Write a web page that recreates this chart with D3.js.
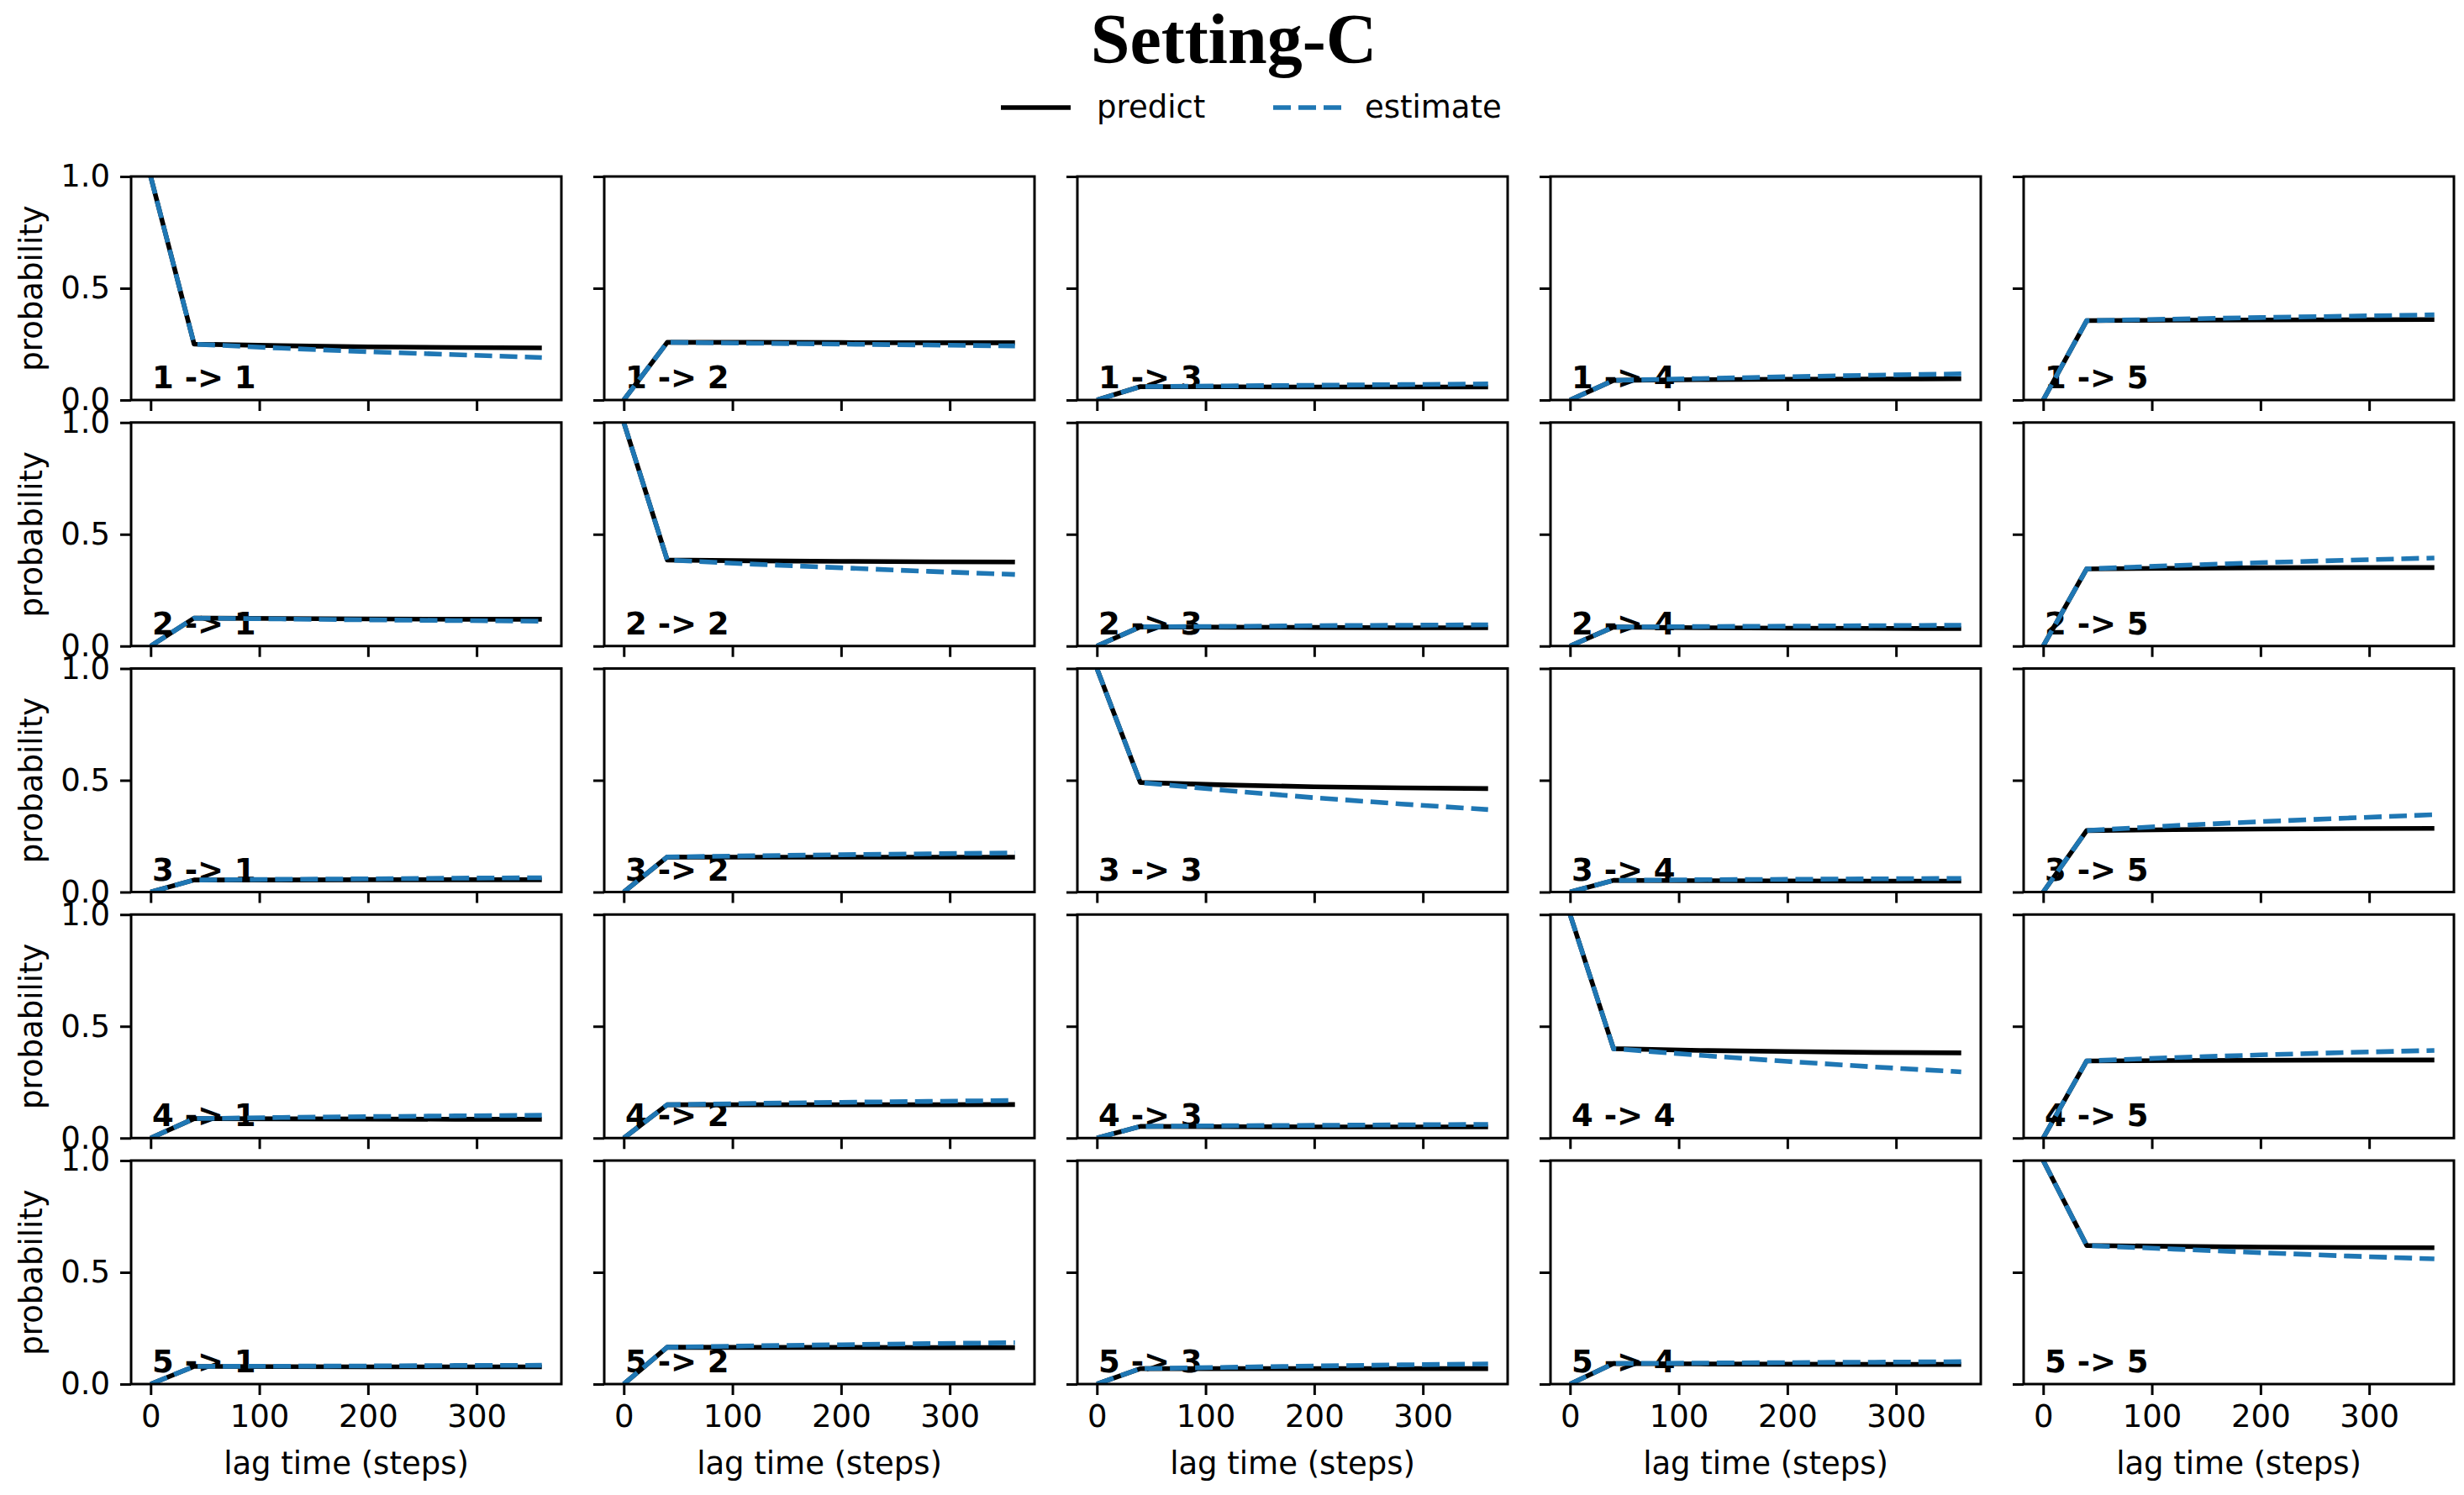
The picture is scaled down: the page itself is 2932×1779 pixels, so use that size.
<!DOCTYPE html>
<html>
<head>
<meta charset="utf-8">
<script src="https://cdn.jsdelivr.net/npm/d3@7"></script>
<style>
  body { margin: 0; background: #fff; }
  text { font-family: "DejaVu Sans", sans-serif; }
</style>
</head>
<body>
<svg id="chart" width="2932" height="1779"></svg>
<script>
// DATA ------------------------------------------------------------------------
const states = [1, 2, 3, 4, 5];
const lagTimes = [0, 40, 120, 200, 280, 360];
const xTicks = [0, 100, 200, 300];
const yTicks = [0, 0.5, 1];

// one array per (from -> to) panel, rows = "from" state
const predictRow1 = [
  [1, 0.25, 0.243, 0.238, 0.235, 0.233],
  [0, 0.258, 0.258, 0.257, 0.256, 0.256],
  [0, 0.06, 0.059, 0.058, 0.058, 0.058],
  [0, 0.088, 0.091, 0.093, 0.094, 0.095],
  [0, 0.355, 0.357, 0.358, 0.359, 0.36]
];
const estimateRow1 = [
  [1, 0.25, 0.232, 0.216, 0.203, 0.19],
  [0, 0.258, 0.254, 0.25, 0.246, 0.242],
  [0, 0.06, 0.063, 0.066, 0.069, 0.072],
  [0, 0.088, 0.096, 0.104, 0.111, 0.117],
  [0, 0.355, 0.362, 0.369, 0.375, 0.381]
];
const predictRow2 = [
  [0, 0.125, 0.123, 0.121, 0.12, 0.12],
  [1, 0.385, 0.381, 0.379, 0.377, 0.376],
  [0, 0.086, 0.084, 0.083, 0.082, 0.082],
  [0, 0.085, 0.082, 0.08, 0.079, 0.078],
  [0, 0.345, 0.348, 0.35, 0.351, 0.351]
];
const estimateRow2 = [
  [0, 0.125, 0.121, 0.117, 0.114, 0.111],
  [1, 0.385, 0.366, 0.35, 0.334, 0.32],
  [0, 0.086, 0.088, 0.091, 0.093, 0.095],
  [0, 0.085, 0.087, 0.089, 0.091, 0.093],
  [0, 0.345, 0.36, 0.373, 0.384, 0.394]
];
const predictRow3 = [
  [0, 0.054, 0.054, 0.055, 0.055, 0.055],
  [0, 0.157, 0.156, 0.156, 0.156, 0.156],
  [1, 0.49, 0.479, 0.471, 0.466, 0.463],
  [0, 0.052, 0.051, 0.05, 0.049, 0.049],
  [0, 0.275, 0.279, 0.282, 0.284, 0.285]
];
const estimateRow3 = [
  [0, 0.054, 0.057, 0.059, 0.062, 0.064],
  [0, 0.157, 0.162, 0.167, 0.171, 0.175],
  [1, 0.49, 0.454, 0.422, 0.394, 0.369],
  [0, 0.052, 0.055, 0.057, 0.059, 0.061],
  [0, 0.275, 0.297, 0.315, 0.331, 0.346]
];
const predictRow4 = [
  [0, 0.087, 0.086, 0.085, 0.084, 0.084],
  [0, 0.149, 0.149, 0.149, 0.149, 0.15],
  [0, 0.052, 0.051, 0.05, 0.05, 0.05],
  [1, 0.4, 0.392, 0.387, 0.383, 0.381],
  [0, 0.345, 0.347, 0.348, 0.349, 0.349]
];
const estimateRow4 = [
  [0, 0.087, 0.092, 0.096, 0.099, 0.102],
  [0, 0.149, 0.155, 0.16, 0.164, 0.168],
  [0, 0.052, 0.055, 0.057, 0.059, 0.061],
  [1, 0.4, 0.37, 0.343, 0.318, 0.296],
  [0, 0.345, 0.36, 0.372, 0.383, 0.392]
];
const predictRow5 = [
  [0, 0.079, 0.078, 0.077, 0.077, 0.077],
  [0, 0.165, 0.164, 0.164, 0.163, 0.163],
  [0, 0.069, 0.069, 0.069, 0.069, 0.069],
  [0, 0.092, 0.09, 0.089, 0.088, 0.088],
  [1, 0.62, 0.616, 0.613, 0.611, 0.61]
];
const estimateRow5 = [
  [0, 0.079, 0.08, 0.081, 0.083, 0.084],
  [0, 0.165, 0.171, 0.176, 0.181, 0.185],
  [0, 0.069, 0.075, 0.081, 0.086, 0.09],
  [0, 0.092, 0.094, 0.096, 0.098, 0.1],
  [1, 0.62, 0.604, 0.588, 0.573, 0.56]
];

const predict = [predictRow1, predictRow2, predictRow3, predictRow4, predictRow5];
const estimate = [estimateRow1, estimateRow2, estimateRow3, estimateRow4, estimateRow5];

// LAYOUT ----------------------------------------------------------------------
const svg = d3.select("#chart");
svg.append("rect").attr("width", 2932).attr("height", 1779).attr("fill", "#fff");

const panelW = 512, panelH = 266;
const left0 = 156, colStep = 563;
const top0 = 210, rowStep = 292.75;
const blue = "#1f77b4";
const lw = 5.6;
const fontSize = 37;

// title + legend
svg.append("text")
    .attr("x", 1468).attr("y", 75)
    .attr("text-anchor", "middle")
    .style("font-family", "'Liberation Serif', 'DejaVu Serif', serif")
    .style("font-weight", "bold")
    .style("font-size", "84px")
    .text("Setting-C");

const legend = svg.append("g");
legend.append("line")
    .attr("x1", 1191).attr("x2", 1274).attr("y1", 128).attr("y2", 128)
    .attr("stroke", "black").attr("stroke-width", lw);
legend.append("text")
    .attr("x", 1305).attr("y", 140)
    .style("font-size", fontSize + "px")
    .text("predict");
legend.append("line")
    .attr("x1", 1515).attr("x2", 1598).attr("y1", 128).attr("y2", 128)
    .attr("stroke", blue).attr("stroke-width", lw)
    .attr("stroke-dasharray", "21,9");
legend.append("text")
    .attr("x", 1624).attr("y", 140)
    .style("font-size", fontSize + "px")
    .text("estimate");

const xScale = d3.scaleLinear().domain([-18, 378]).range([0, panelW]);
const yScale = d3.scaleLinear().domain([0, 1]).range([panelH, 0]);

const line = d3.line()
    .x((d, i) => xScale(lagTimes[i]))
    .y(d => yScale(d));

// PANELS ----------------------------------------------------------------------
states.forEach((from, r) => {
    states.forEach((to, c) => {
        const g = svg.append("g")
            .attr("transform", `translate(${left0 + c * colStep},${top0 + r * rowStep})`);

        const clipId = `clip-${r}-${c}`;
        g.append("clipPath").attr("id", clipId)
            .append("rect").attr("width", panelW).attr("height", panelH);

        // label sits under the curves, as in the reference
        g.append("text")
            .attr("x", 25).attr("y", panelH - 14)
            .style("font-size", fontSize + "px")
            .style("font-weight", "bold")
            .text(`${from} -> ${to}`);

        const plot = g.append("g").attr("clip-path", `url(#${clipId})`);
        plot.append("path")
            .datum(predict[r][c])
            .attr("fill", "none")
            .attr("stroke", "black")
            .attr("stroke-width", lw)
            .attr("stroke-linejoin", "round")
            .attr("d", line);
        plot.append("path")
            .datum(estimate[r][c])
            .attr("fill", "none")
            .attr("stroke", blue)
            .attr("stroke-width", lw)
            .attr("stroke-dasharray", "21,9")
            .attr("d", line);

        // axes
        const xAxis = d3.axisBottom(xScale).tickValues(xTicks)
            .tickSize(13).tickPadding(12)
            .tickFormat(r === states.length - 1 ? d3.format("d") : () => "");
        const yAxis = d3.axisLeft(yScale).tickValues(yTicks)
            .tickSize(13).tickPadding(12)
            .tickFormat(c === 0 ? d3.format(".1f") : () => "");

        const gx = g.append("g").attr("transform", `translate(0,${panelH})`).call(xAxis);
        const gy = g.append("g").call(yAxis);
        [gx, gy].forEach(a => {
            a.select(".domain").remove();
            a.selectAll(".tick line").attr("stroke", "black").attr("stroke-width", 3);
            a.selectAll(".tick text")
                .attr("fill", "black")
                .style("font-family", "'DejaVu Sans', sans-serif")
                .style("font-size", fontSize + "px");
        });

        // spines
        g.append("rect")
            .attr("width", panelW).attr("height", panelH)
            .attr("fill", "none").attr("stroke", "black").attr("stroke-width", 3);

        if (c === 0) {
            g.append("text")
                .attr("transform", `translate(${50 - left0},${panelH / 2}) rotate(-90)`)
                .attr("text-anchor", "middle")
                .style("font-size", fontSize + "px")
                .text("probability");
        }
        if (r === states.length - 1) {
            g.append("text")
                .attr("x", panelW / 2).attr("y", panelH + 107)
                .attr("text-anchor", "middle")
                .style("font-size", fontSize + "px")
                .text("lag time (steps)");
        }
    });
});
</script>
</body>
</html>
